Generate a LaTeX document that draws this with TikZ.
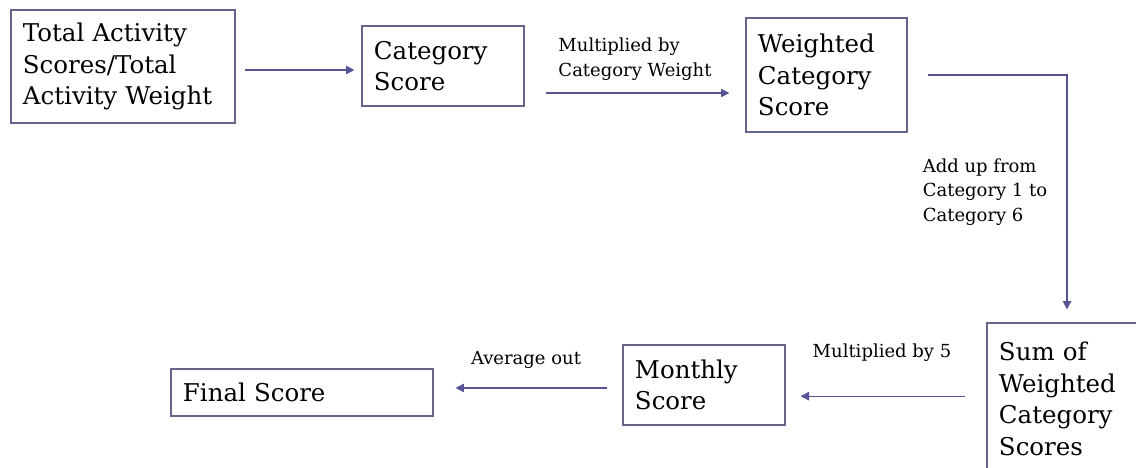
\documentclass[tikz,border=0pt]{standalone}
\usepackage{fontspec}
\setmainfont{DejaVu Serif}
\usepackage{xcolor}
\usetikzlibrary{arrows.meta, positioning}
\definecolor{boxline}{RGB}{100,100,140}
\definecolor{flowline}{RGB}{85,85,150}

\begin{document}
\begin{tikzpicture}[
    x=0.025cm, y=-0.025cm,
    box/.style={rectangle, draw=boxline, line width=0.8pt, align=left, inner xsep=8.5pt, inner ysep=0pt, font=\fontsize{17.4pt}{22.5pt}\selectfont},
    lbl/.style={align=left, inner sep=0pt, font=\fontsize{12.8pt}{17.5pt}\selectfont},
    arrow/.style={-{Triangle[length=6pt, width=6pt]}, draw=flowline, line width=0.8pt}
]
    \clip (0,0) rectangle (1136,467);

    \node[box, text width=5cm, minimum height=2.825cm] (tot) at (123,66.5) {Total Activity\\Scores/Total\\Activity Weight};
    \node[box, text width=3.45cm, minimum height=2cm] (cat) at (443,66) {Category\\Score};
    \node[box, text width=3.425cm, minimum height=2.85cm] (wcs) at (826.5,75) {Weighted\\Category\\Score};
    \node[box, text width=3.4cm, minimum height=3.8cm] (sum) at (1067,399) {Sum of\\Weighted\\Category\\Scores};
    \node[box, text width=3.45cm, minimum height=2cm] (mon) at (704,385) {Monthly\\Score};
    \node[box, text width=5.95cm, minimum height=1.175cm] (fin) at (302,392.5) {Final Score};

    \node[lbl] (mulw) at (635,59) {Multiplied by\\Category Weight};
    \node[lbl] (add) at (985,192) {Add up from\\Category 1 to\\Category 6};
    \node[lbl] (mul5) at (882,353) {Multiplied by 5};
    \node[lbl] (avg) at (526,360) {Average out};

    \draw[arrow, shorten <=7pt, shorten >=5pt] ([yshift=-2.5pt]tot.east) -- ([yshift=-2.5pt]tot.east -| cat.west);
    \draw[arrow, shorten <=15pt, shorten >=11.4pt] ([yshift=-19.2pt]cat.east) -- ([yshift=-19.2pt]cat.east -| wcs.west);
    \draw[arrow, shorten <=14.2pt, shorten >=9.2pt] (wcs.east) -| (sum.north);
    \draw[arrow, shorten <=15pt, shorten >=10.7pt] ([yshift=2pt]sum.west) -- ([yshift=2pt]sum.west -| mon.east);
    \draw[arrow, shorten <=10.7pt, shorten >=15.6pt] ([yshift=-2.1pt]mon.west) -- ([yshift=-2.1pt]mon.west -| fin.east);
\end{tikzpicture}
\end{document}
